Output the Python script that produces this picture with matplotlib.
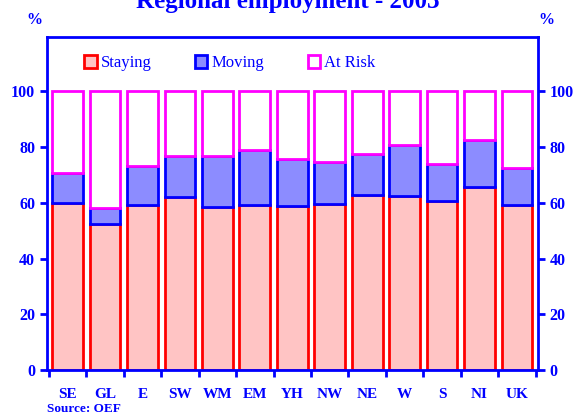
import matplotlib.pyplot as plt
import numpy as np
from matplotlib.patches import Patch

plt.rcParams['font.family'] = ['Liberation Serif', 'DejaVu Serif']

regions = ['SE', 'GL', 'E', 'SW', 'WM', 'EM', 'YH', 'NW', 'NE', 'W', 'S', 'NI', 'UK']
staying = [60.0, 52.3, 59.1, 62.1, 58.6, 59.1, 59.0, 59.5, 62.7, 62.4, 60.7, 65.5, 59.1]
moving = [10.8, 5.9, 14.1, 14.6, 18.2, 19.9, 16.7, 15.2, 14.9, 18.2, 13.3, 17.2, 13.5]
at_risk = [100 - s - m for s, m in zip(staying, moving)]

blue = '#0000ff'
x = np.arange(len(regions))
w = 0.82

fig = plt.figure(figsize=(5.76, 4.16), dpi=100)
ax = fig.add_axes([0.0816, 0.1106, 0.8516, 0.8005])

bottom2 = np.array(staying) + np.array(moving)
ax.bar(x, staying, w, color='#ffc4c4', edgecolor='red', linewidth=2)
ax.bar(x, moving, w, bottom=staying, color='#8c8cff', edgecolor=blue, linewidth=2)
ax.bar(x, at_risk, w, bottom=bottom2, color='white', edgecolor='#ff00ff', linewidth=2)

ax.set_xlim(-0.55, len(regions) - 0.45)
ax.set_ylim(0, 119.5)

for s in ax.spines.values():
    s.set_color(blue)
    s.set_linewidth(2)

# tick marks between bars, labels under bars
ax.set_xticks(np.arange(len(regions) + 1) - 0.5)
ax.set_xticklabels([])
ax.set_xticks(x, minor=True)
ax.set_xticklabels(regions, minor=True, color=blue, fontweight='bold', fontsize=11)
ax.tick_params(axis='x', which='major', length=5, width=2, color=blue)
ax.tick_params(axis='x', which='minor', length=0, pad=13)

ax.set_yticks(range(0, 101, 20))
ax.tick_params(axis='y', which='major', length=5, width=2, color=blue,
               labelcolor=blue, labelsize=11.5, left=True, right=True,
               labelleft=True, labelright=True)
for lab in ax.get_yticklabels():
    lab.set_fontweight('bold')

handles = [Patch(facecolor='#ffc4c4', edgecolor='red', linewidth=2, label='Staying'),
           Patch(facecolor='#8c8cff', edgecolor=blue, linewidth=2, label='Moving'),
           Patch(facecolor='white', edgecolor='#ff00ff', linewidth=2, label='At Risk')]
leg = ax.legend(handles=handles, loc='upper left', bbox_to_anchor=(0.045, 0.99),
                ncol=3, frameon=False, fontsize=12, handlelength=0.75,
                handleheight=0.75, handletextpad=0.25, columnspacing=2.6)
for t in leg.get_texts():
    t.set_color(blue)

fig.text(0.5, 0.997, 'Regional employment - 2003', ha='center', va='center',
         fontsize=18, fontweight='bold', color=blue)
fig.text(0.045, 0.952, '%', ha='left', va='center', fontsize=11.5,
         fontweight='bold', color=blue)
fig.text(0.935, 0.952, '%', ha='left', va='center', fontsize=11.5,
         fontweight='bold', color=blue)
fig.text(0.082, 0.018, 'Source: OEF', ha='left', va='center', fontsize=9.5,
         fontweight='bold', color=blue)

fig.savefig('out.png', dpi=100)
